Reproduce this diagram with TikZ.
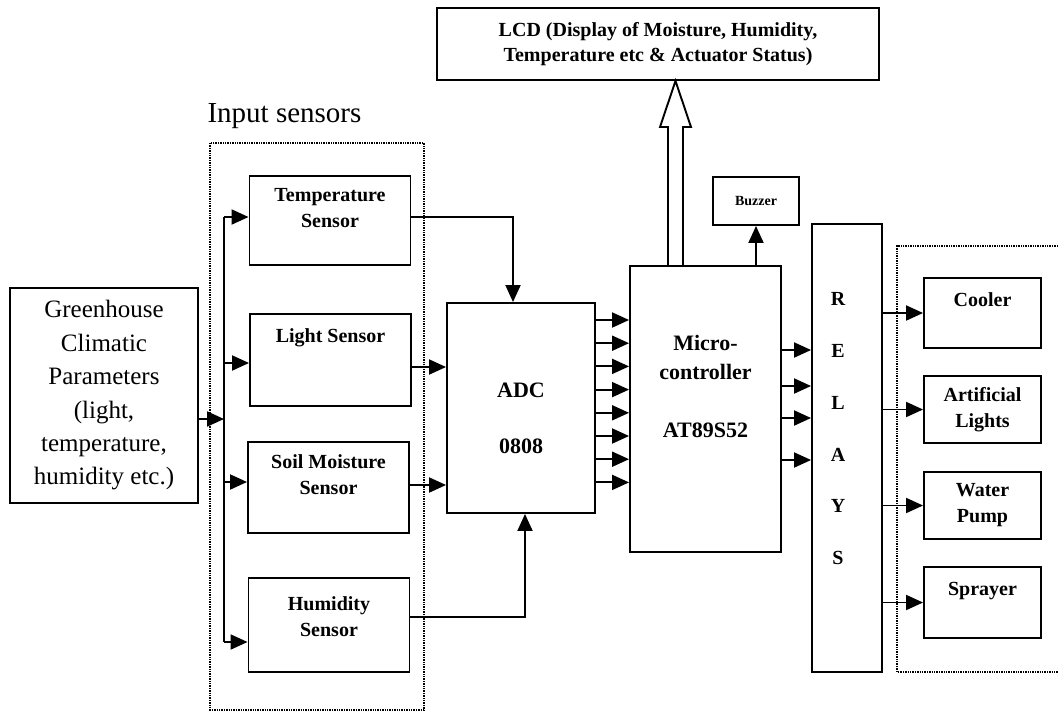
\documentclass[tikz,border=0pt]{standalone}
\usepackage{fontspec}
\setmainfont{Liberation Serif}
\usetikzlibrary{arrows.meta}

\begin{document}
\begin{tikzpicture}[
  x=1pt, y=-1pt,
  box/.style = {draw, line width=1.9pt, inner sep=0pt},
  sensor/.style = {box, minimum width=161pt},
  outdev/.style = {box, minimum width=117pt, align=center, font=\fontsize{20}{26}\selectfont\bfseries},
  toptext/.style = {anchor=north, inner sep=0pt, align=center, font=\fontsize{20}{26}\selectfont\bfseries},
  bold/.style = {align=center, font=\fontsize{22}{28}\selectfont\bfseries},
  arr/.style = {line width=1.9pt, -{Triangle[length=17pt,width=15pt]}},
  wire/.style = {line width=1.9pt},
  group/.style = {densely dotted, line width=1.4pt}
]
\useasboundingbox (0,0) rectangle (1058,713);

% input side
\node[box, minimum width=188pt, minimum height=215pt, align=center,
      font=\fontsize{25}{33.4}\selectfont] (gh) at (104,395.5)
  {Greenhouse\\Climatic\\Parameters\\(light,\\temperature,\\humidity etc.)};

\draw[group] (210,143) rectangle (424,710);
\node[font=\fontsize{29}{34}\selectfont, anchor=base] (insens) at (284.5,122) {Input sensors};

\node[sensor, minimum height=89pt, label={[toptext, yshift=-13pt]north:{Temperature\\Sensor}}] (temp) at (330,220.5) {};
\node[sensor, minimum height=92pt, label={[toptext, yshift=-15pt]north:{Light Sensor}}] (light) at (330.5,360) {};
\node[sensor, minimum height=91pt, label={[toptext, yshift=-13pt]north:{Soil Moisture\\Sensor}}] (soil) at (328.5,487.5) {};
\node[sensor, minimum height=94pt, label={[toptext, yshift=-19pt]north:{Humidity\\Sensor}}] (hum) at (329,625) {};

% converter and controller
\node[box, minimum width=148pt, minimum height=210pt] (adc) at (521,408) {};
\node[bold] (adctxt) at (521,418) {ADC\\[28pt]0808};

\node[box, minimum width=151pt, minimum height=286pt] (mcu) at (705.5,409) {};
\node[bold, font=\fontsize{22}{29}\selectfont\bfseries] (mcutxt) at (705.5,386) {Micro-\\controller\\[29pt]AT89S52};

\node[box, minimum width=442pt, minimum height=72pt, align=center,
      font=\fontsize{20}{25}\selectfont\bfseries] (lcd) at (658,44)
  {LCD (Display of Moisture, Humidity,\\Temperature etc \& Actuator Status)};

\node[box, minimum width=86pt, minimum height=48pt, font=\fontsize{14}{16}\selectfont\bfseries] (buzz) at (756,201) {Buzzer};

% relays and outputs
\node[box, minimum width=70pt, minimum height=448pt] (relay) at (847,448) {};
\foreach \ch [count=\i from 0] in {R,E,L,A,Y,S}
  \node[font=\fontsize{20}{24}\selectfont\bfseries] (rl\i) at (838,{299+51.8*\i}) {\ch};

\draw[group] (1070,246) -- (897,246) -- (897,672) -- (1070,672);

\node[outdev, minimum height=70pt, label={[toptext, yshift=-15pt]north:Cooler}] (cooler) at (982.5,313) {};
\node[outdev, minimum height=67pt] (art) at (982.5,409.5) {Artificial\\Lights};
\node[outdev, minimum height=67pt] (pump) at (982.5,505.5) {Water\\Pump};
\node[outdev, minimum height=71pt, label={[toptext, yshift=-16pt]north:Sprayer}] (spray) at (982.5,602.5) {};

% connections
\coordinate (bus-gh) at (224,419);
\coordinate (bus-top) at (224,217);
\coordinate (bus-bot) at (224,642);
\draw[wire] (bus-top) -- (bus-bot);
\draw[arr] (gh.east |- bus-gh) -- (bus-gh);
\foreach \s/\y in {temp/217,light/363,soil/482,hum/642}{
  \coordinate (bus-\s) at (224,\y);
  \draw[arr] (bus-\s) -- (bus-\s -| \s.west);
}

\draw[arr] (temp.east |- 0,217) -| ([xshift=-8pt]adc.north);
\draw[arr] (light.east |- 0,367) -- (adc.west |- 0,367);
\draw[arr] (soil.east |- 0,485) -- (adc.west |- 0,485);
\draw[arr] (hum.east |- 0,617) -| ([xshift=4pt]adc.south);

\foreach \i in {0,...,7}
  \draw[arr] (adc.east |- 0,{320+23.2*\i}) -- (mcu.west |- 0,{320+23.2*\i});

\foreach \y in {350,386,418,460}
  \draw[arr] (mcu.east |- 0,\y) -- (relay.west |- 0,\y);

\draw[arr] (mcu.north -| buzz.south) -- (buzz.south);

% hollow bus arrow to the display
\draw[wire, line join=miter] (668,266) -- (668,127) -- (660,127) -- (lcd.south -| 675.5,0)
  -- (691,127) -- (683,127) -- (683,266);

\foreach \o in {cooler,art,pump,spray}
  \draw[arr] (relay.east |- \o.west) -- (\o.west);
\end{tikzpicture}
\end{document}
